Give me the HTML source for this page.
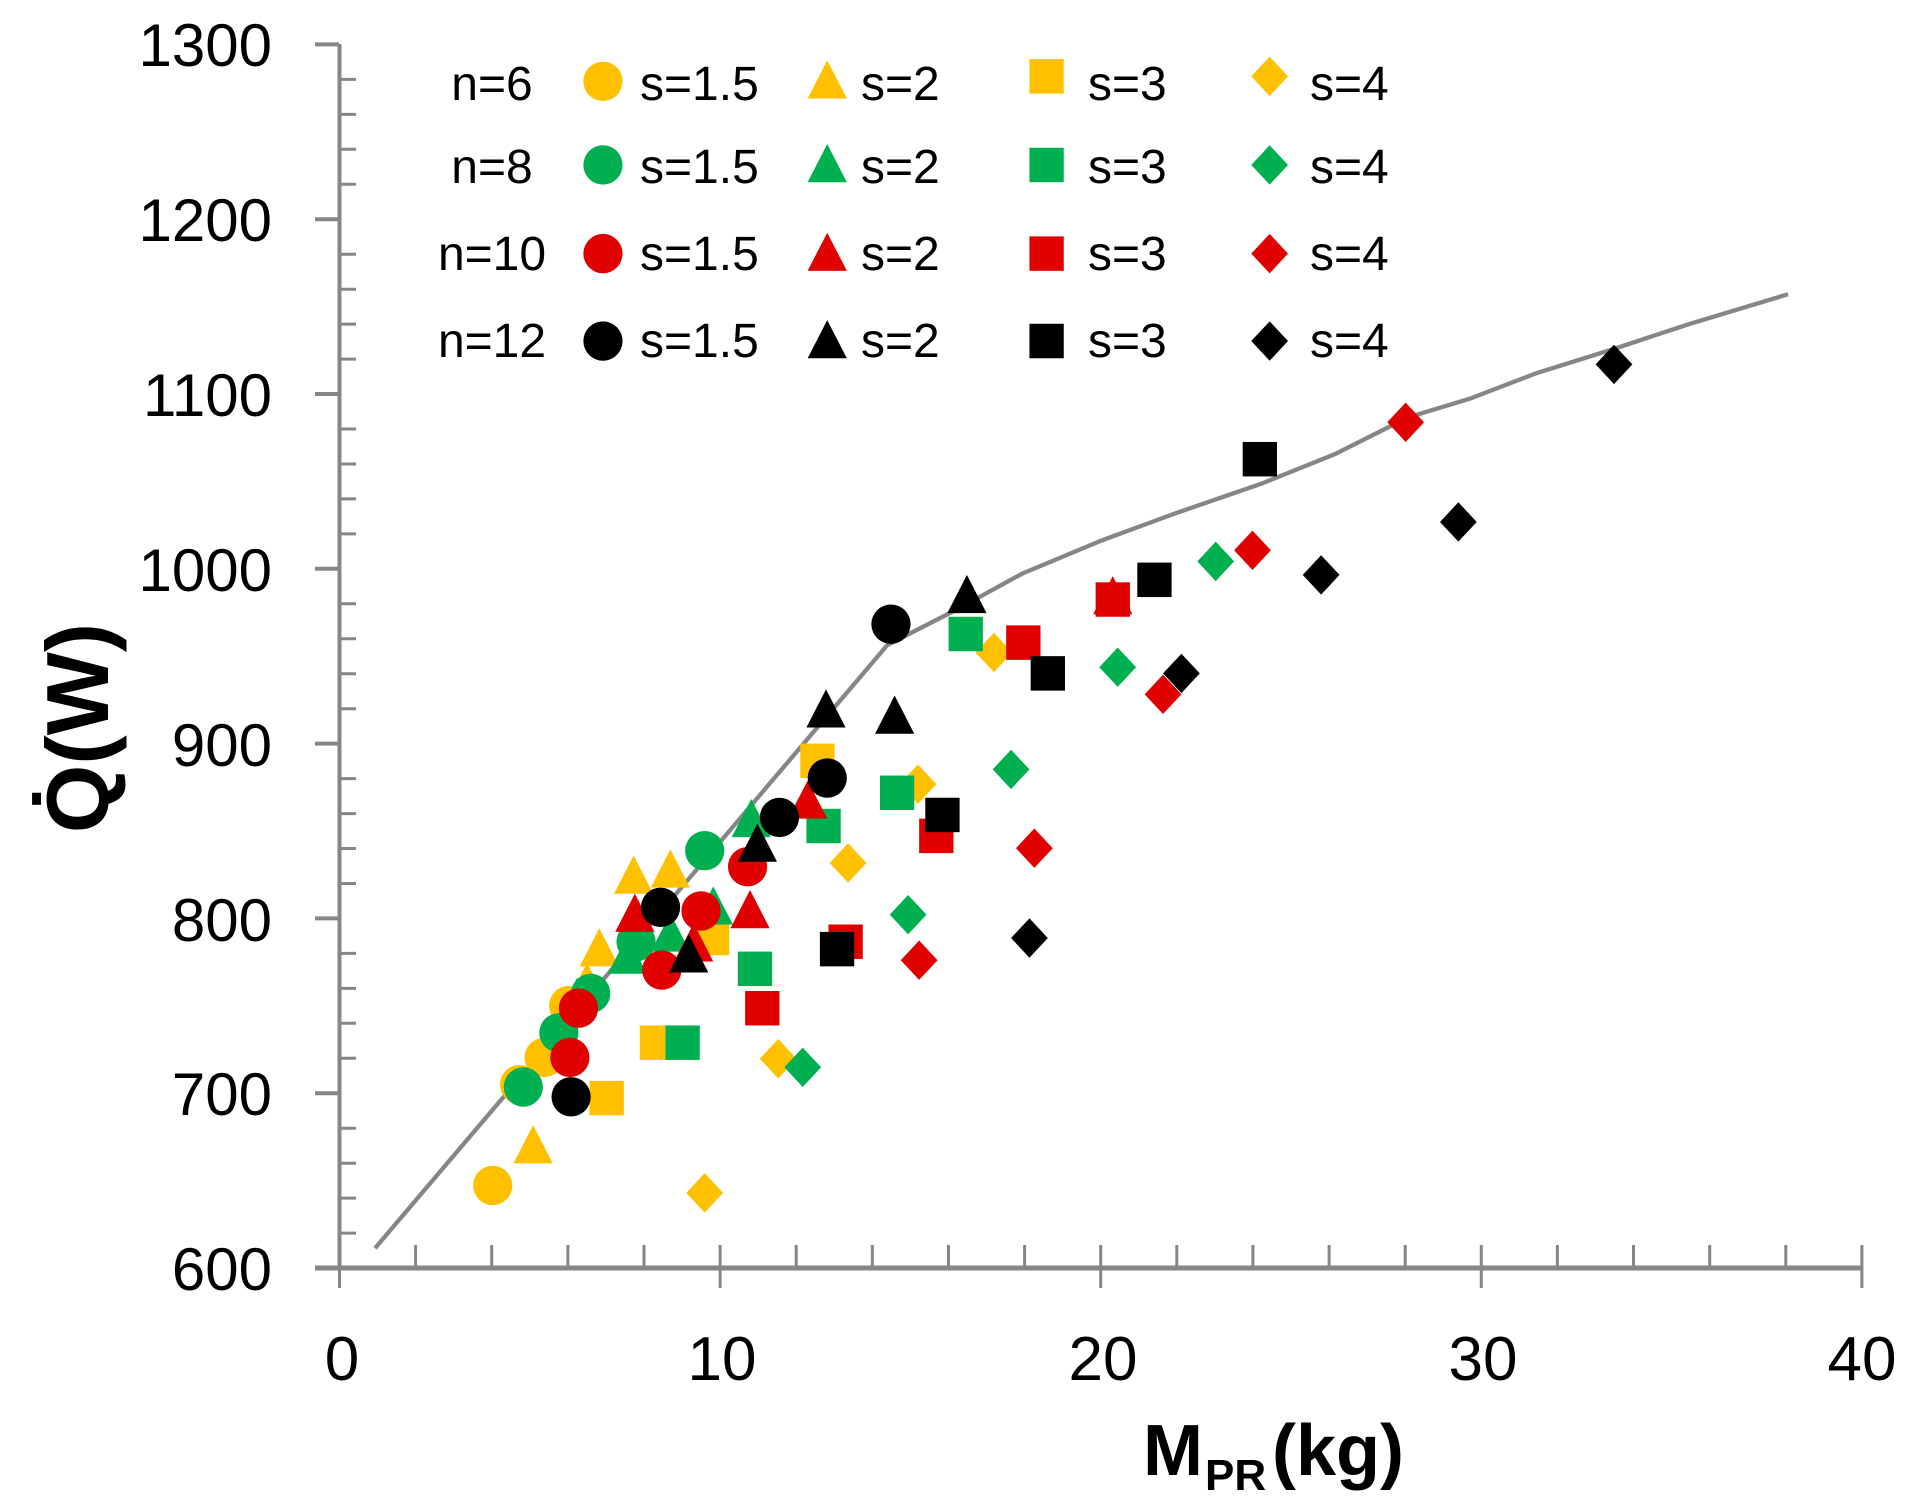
<!DOCTYPE html>
<html><head><meta charset="utf-8"><style>
html,body{margin:0;padding:0;background:#fff}
svg{display:block}
text{font-family:"Liberation Sans","DejaVu Sans",sans-serif;fill:#000}
</style></head><body>
<svg width="1922" height="1512" viewBox="0 0 1922 1512" xmlns="http://www.w3.org/2000/svg">
<defs>
<g id="ci"><circle r="16"/></g>
<g id="tr"><polygon points="0,-17 16,14 -16,14"/></g>
<g id="sq"><rect x="-14" y="-14" width="28" height="28"/></g>
<g id="di"><polygon points="0,-16 15,0 0,16 -15,0"/></g>
</defs>
<!-- axes -->
<g stroke="#868686" fill="none">
<line x1="339.5" y1="44" x2="339.5" y2="1268" stroke-width="4"/>
<line x1="315" y1="1268" x2="1862" y2="1268" stroke-width="5"/>
<g stroke-width="4">
<line x1="315" y1="44.4" x2="339" y2="44.4"/><line x1="315" y1="219.2" x2="339" y2="219.2"/><line x1="315" y1="394" x2="339" y2="394"/><line x1="315" y1="568.8" x2="339" y2="568.8"/><line x1="315" y1="743.6" x2="339" y2="743.6"/><line x1="315" y1="918.4" x2="339" y2="918.4"/><line x1="315" y1="1093.2" x2="339" y2="1093.2"/>
</g>
<g stroke-width="3">
<path d="M339 79.4h17M339 114.4h17M339 149.3h17M339 184.3h17M339 254.2h17M339 289.2h17M339 324.1h17M339 359.1h17M339 429h17M339 464h17M339 498.9h17M339 533.9h17M339 603.8h17M339 638.8h17M339 673.7h17M339 708.7h17M339 778.6h17M339 813.6h17M339 848.5h17M339 883.5h17M339 953.4h17M339 988.4h17M339 1023.3h17M339 1058.3h17M339 1128.2h17M339 1163.2h17M339 1198.1h17M339 1233.1h17"/>
<path d="M339.5 1245v43M720.1 1245v43M1100.7 1245v43M1481.3 1245v43M1861.9 1245v43"/>
<path d="M415.6 1245v23M491.7 1245v23M567.9 1245v23M644 1245v23M796.2 1245v23M872.3 1245v23M948.5 1245v23M1024.6 1245v23M1176.8 1245v23M1252.9 1245v23M1329.1 1245v23M1405.2 1245v23M1557.4 1245v23M1633.5 1245v23M1709.7 1245v23M1785.8 1245v23"/>
</g>
</g>
<!-- tick labels -->
<g font-size="60" text-anchor="end">
<text x="272" y="66">1300</text><text x="272" y="241">1200</text><text x="272" y="416">1100</text><text x="272" y="591">1000</text><text x="272" y="766">900</text><text x="272" y="941">800</text><text x="272" y="1115">700</text><text x="272" y="1290">600</text>
</g>
<g font-size="62" text-anchor="middle">
<text x="342" y="1380">0</text><text x="722" y="1380">10</text><text x="1103" y="1380">20</text><text x="1483" y="1380">30</text><text x="1862" y="1380">40</text>
</g>
<!-- axis titles -->
<text x="1203" y="1475" font-size="72" font-weight="bold" text-anchor="end">M</text>
<text x="1205" y="1490" font-size="44" font-weight="bold">PR</text>
<text x="1272" y="1475" font-size="72" font-weight="bold"> (kg)</text>
<text transform="translate(108,728) rotate(-90)" font-size="88" font-weight="bold" text-anchor="middle">Q̇(W)</text>
<!-- legend -->
<g font-size="48">
<text x="492" y="100" text-anchor="middle">n=6</text>
<text x="492" y="183" text-anchor="middle">n=8</text>
<text x="492" y="270" text-anchor="middle">n=10</text>
<text x="492" y="357" text-anchor="middle">n=12</text>
<text x="640" y="100">s=1.5</text><text x="861" y="100">s=2</text><text x="1088" y="100">s=3</text><text x="1310" y="100">s=4</text>
<text x="640" y="183">s=1.5</text><text x="861" y="183">s=2</text><text x="1088" y="183">s=3</text><text x="1310" y="183">s=4</text>
<text x="640" y="270">s=1.5</text><text x="861" y="270">s=2</text><text x="1088" y="270">s=3</text><text x="1310" y="270">s=4</text>
<text x="640" y="357">s=1.5</text><text x="861" y="357">s=2</text><text x="1088" y="357">s=3</text><text x="1310" y="357">s=4</text>
</g>
<g transform="translate(-1.2,-1.2) scale(1.2255,1.231)">
<g fill="#FFC000">
<use href="#ci" x="493" y="67"/><use href="#tr" x="676" y="67"/><use href="#sq" x="855" y="63"/><use href="#di" x="1037" y="63"/>
</g>
<g fill="#00B050">
<use href="#ci" x="493" y="135"/><use href="#tr" x="676" y="135"/><use href="#sq" x="855" y="135"/><use href="#di" x="1037" y="135"/>
</g>
<g fill="#E00000">
<use href="#ci" x="493" y="207"/><use href="#tr" x="676" y="207"/><use href="#sq" x="855" y="207"/><use href="#di" x="1037" y="207"/>
</g>
<g fill="#000">
<use href="#ci" x="493" y="278"/><use href="#tr" x="676" y="278"/><use href="#sq" x="855" y="278"/><use href="#di" x="1037" y="278"/>
</g>
<!-- line -->
<polyline fill="none" stroke="#868686" stroke-width="3.5" points="307,1015 725,525 780,497 835,467 900,440 960,418 1030,394 1090,370 1150,340 1200,325 1255,304 1316,285 1380,264 1460,240"/>
<g fill="#FFC000">
<use href="#ci" x="403" y="964"/><use href="#ci" x="425" y="882"/><use href="#ci" x="445" y="860"/><use href="#ci" x="465" y="818"/>
<use href="#tr" x="436" y="932"/><use href="#tr" x="490" y="772"/><use href="#tr" x="518" y="713"/><use href="#tr" x="548" y="708"/><use href="#tr" x="480" y="800"/>
<use href="#sq" x="496" y="893"/><use href="#sq" x="537" y="848"/><use href="#sq" x="582" y="763"/><use href="#sq" x="668" y="619"/>
<use href="#di" x="576" y="970"/><use href="#di" x="636" y="861"/><use href="#di" x="693" y="702"/><use href="#di" x="750" y="638"/><use href="#di" x="812" y="531"/>
</g>
<g fill="#00B050">
<use href="#ci" x="428" y="884"/><use href="#ci" x="457" y="840"/><use href="#ci" x="483" y="808"/><use href="#ci" x="520" y="766"/><use href="#ci" x="576" y="692"/>
<use href="#tr" x="472" y="812"/><use href="#tr" x="513" y="778"/><use href="#tr" x="548" y="760"/><use href="#tr" x="583" y="738"/><use href="#tr" x="614" y="667"/>
<use href="#sq" x="558" y="848"/><use href="#sq" x="617" y="788"/><use href="#sq" x="673" y="672"/><use href="#sq" x="733" y="645"/><use href="#sq" x="789" y="516"/>
<use href="#di" x="656" y="868"/><use href="#di" x="742" y="744"/><use href="#di" x="826" y="626"/><use href="#di" x="913" y="543"/><use href="#di" x="993" y="457"/>
</g>
<g fill="#E00000">
<use href="#ci" x="466" y="860"/><use href="#ci" x="473" y="820"/><use href="#ci" x="541" y="789"/><use href="#ci" x="573" y="741"/><use href="#ci" x="611" y="705"/>
<use href="#tr" x="519" y="744"/><use href="#tr" x="567" y="768"/><use href="#tr" x="613" y="741"/><use href="#tr" x="660" y="652"/><use href="#tr" x="909" y="486"/>
<use href="#sq" x="623" y="820"/><use href="#sq" x="691" y="766"/><use href="#sq" x="765" y="680"/><use href="#sq" x="836" y="523"/><use href="#sq" x="909" y="488"/>
<use href="#di" x="751" y="781"/><use href="#di" x="845" y="690"/><use href="#di" x="950" y="565"/><use href="#di" x="1023" y="448"/><use href="#di" x="1148" y="344"/>
</g>
<g fill="#000">
<use href="#ci" x="467" y="892"/><use href="#ci" x="540" y="738"/><use href="#ci" x="637" y="665"/><use href="#ci" x="676" y="633"/><use href="#ci" x="728" y="508"/>
<use href="#tr" x="563" y="777"/><use href="#tr" x="619" y="687"/><use href="#tr" x="675" y="578"/><use href="#tr" x="731" y="583"/><use href="#tr" x="790" y="485"/>
<use href="#sq" x="684" y="772"/><use href="#sq" x="770" y="663"/><use href="#sq" x="856" y="548"/><use href="#sq" x="943" y="472"/><use href="#sq" x="1029" y="374"/>
<use href="#di" x="841" y="763"/><use href="#di" x="965" y="548"/><use href="#di" x="1079" y="468"/><use href="#di" x="1191" y="425"/><use href="#di" x="1318" y="297"/>
</g>
</g>
</svg>
</body></html>
